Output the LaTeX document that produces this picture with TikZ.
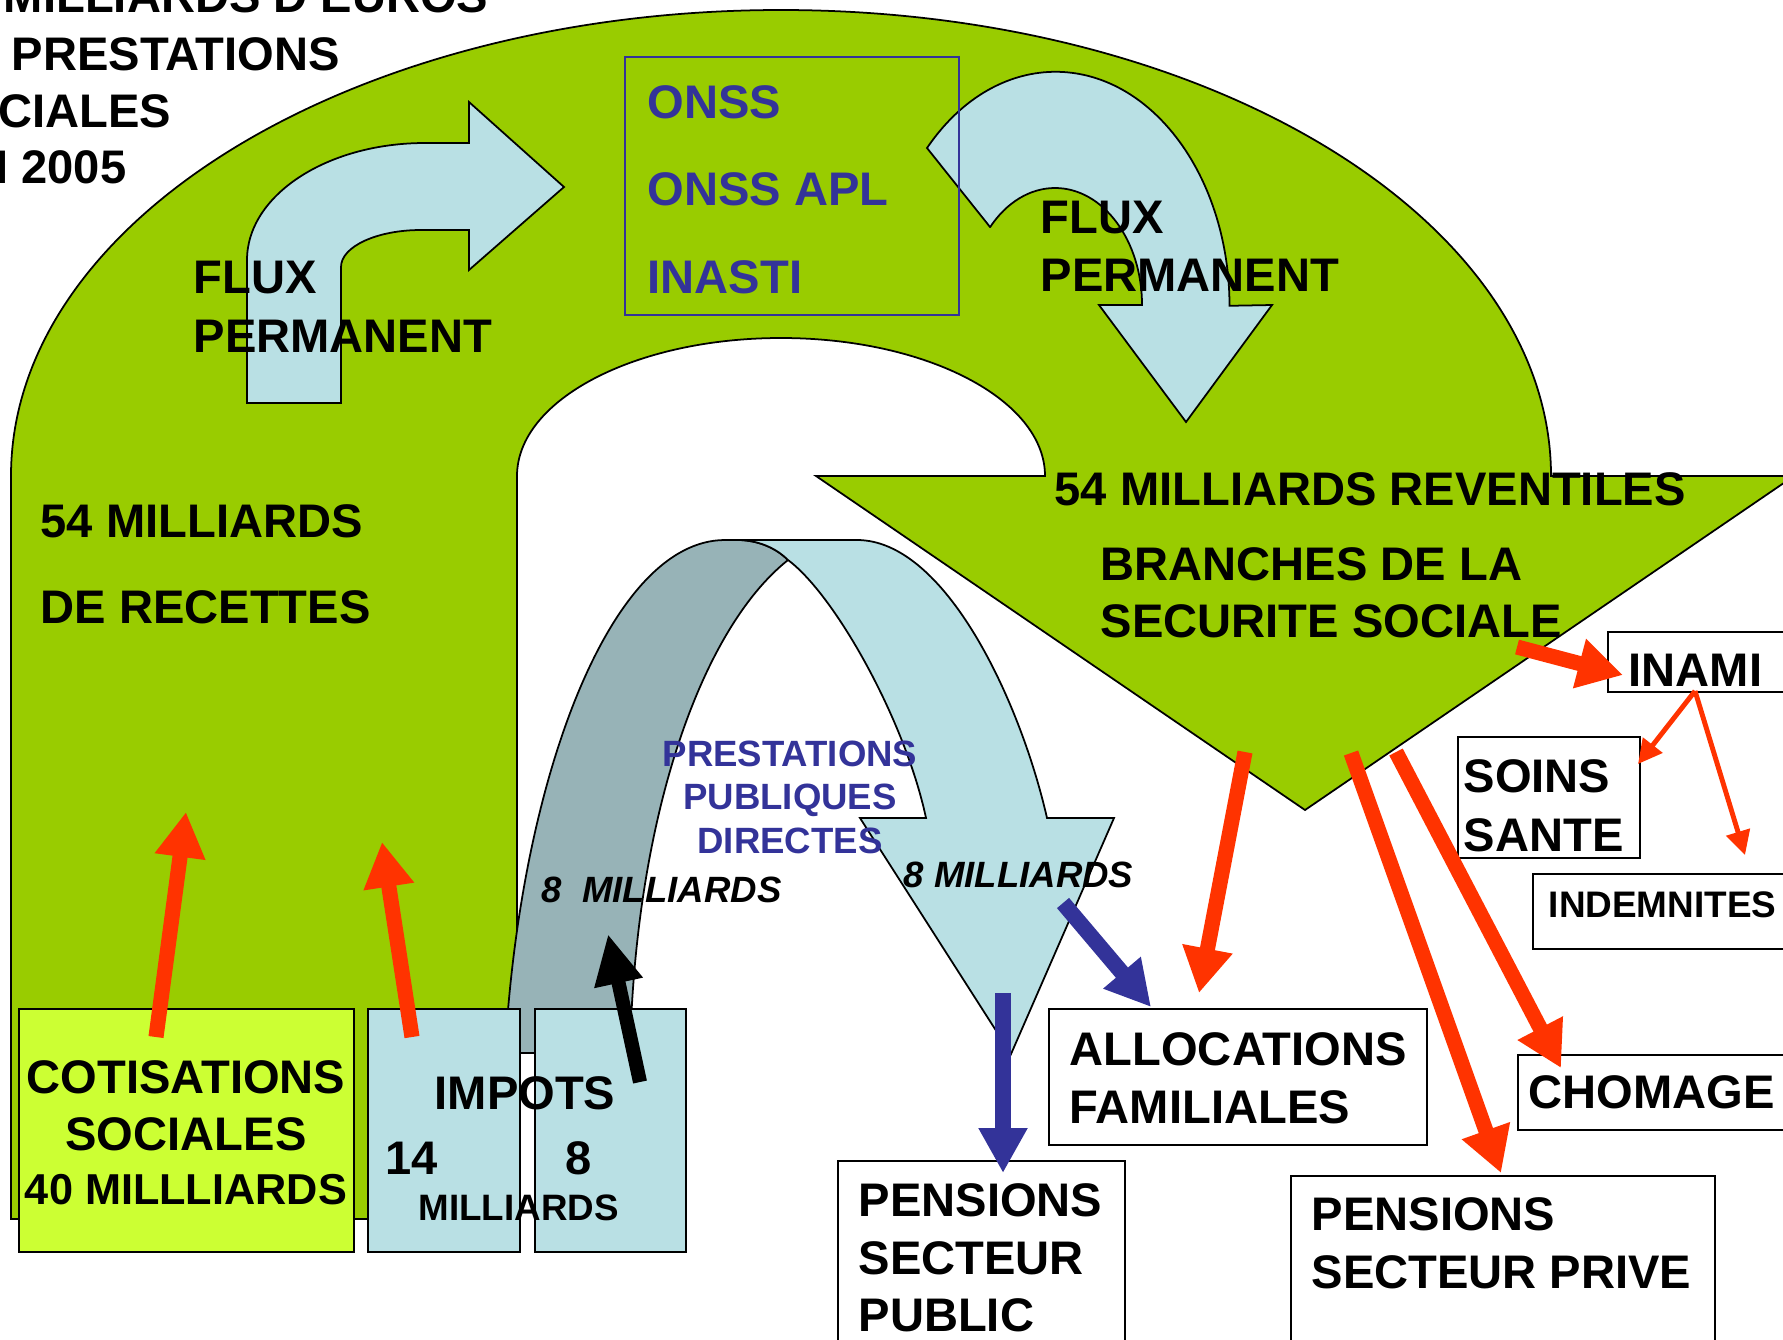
\documentclass[tikz,border=0pt]{standalone}
\usepackage{fontspec}
\setmainfont{Liberation Sans}
\usetikzlibrary{arrows.meta}
\definecolor{uturngreen}{RGB}{153,204,0}
\definecolor{fluxblue}{RGB}{185,224,228}
\definecolor{backgray}{RGB}{151,179,183}
\definecolor{limebox}{RGB}{204,255,51}
\definecolor{redarrow}{RGB}{255,51,0}
\definecolor{navy}{RGB}{51,51,153}
\newcommand{\bsz}[1]{\fontsize{#1}{#1}\selectfont\bfseries}

\begin{document}
\begin{tikzpicture}[x=0.01cm,y=-0.01cm,
  outl/.style={draw=black,line width=0.5pt},
  txt/.style={inner sep=0pt,anchor=base west,font=\bsz{13.4}},
  bluetxt/.style={txt,text=navy},
  ctxt/.style={txt,anchor=base},
  smalltxt/.style={txt,font=\bsz{10.45}},
  itxt/.style={txt,font=\bsz{10.4}\itshape},
  box/.style={draw,line width=0.6pt,inner sep=0pt,anchor=north west,fill=white},
  redarr/.style={draw=redarrow,line width=4.3pt,-{Triangle[length=0.45cm,width=0.48cm]}},
  redthin/.style={draw=redarrow,line width=1.4pt,-{Triangle[length=0.24cm,width=0.24cm]}},
  bluearr/.style={draw=navy,line width=4.5pt,-{Triangle[length=0.45cm,width=0.46cm]}},
  blackarr/.style={draw=black,line width=4pt,-{Triangle[length=0.5cm,width=0.46cm]}}]
\useasboundingbox (0,0) rectangle (1783,1339);
\clip (0,0) rectangle (1783,1339);

% big u-turn
\filldraw[outl,fill=uturngreen] (11,1219) -- (11,476)
  arc[start angle=180,end angle=360,x radius=770,y radius=466]
  -- (1794,476) -- (1305,810) -- (816,476) -- (1045,476)
  arc[start angle=0,end angle=-180,x radius=264,y radius=138]
  -- (517,1219) -- cycle;

% flux arrows
\filldraw[outl,fill=fluxblue] (247,403) -- (247,260)
  arc[start angle=180,end angle=270,x radius=178,y radius=117]
  -- (469,143) -- (469,102) -- (564,187) -- (469,270) -- (469,230) -- (421,230)
  arc[start angle=270,end angle=180,x radius=80,y radius=37]
  -- (341,403) -- cycle;
\filldraw[outl,fill=fluxblue] (990,227) -- (927,148)
  arc[start angle=222.4,end angle=360,x radius=174,y radius=234]
  -- (1272,305) -- (1186,422) -- (1099,305) -- (1142,305)
  arc[start angle=360,end angle=221.8,x radius=87,y radius=117] -- cycle;

\path (624,56) node (onssbox) [box,draw=navy,fill=none,minimum width=3.34cm,minimum height=2.58cm] {};

% prestations publiques ribbon
\filldraw[outl,fill=backgray] (505,1053) .. controls (520,780) and (610,540) .. (725,540)
  -- (740,540) .. controls (762,541) and (778,550) .. (788,560)
  .. controls (700,630) and (635,820) .. (630,1053) -- cycle;
\filldraw[outl,fill=fluxblue] (740,540) -- (857,540)
  .. controls (945,540) and (1020,700) .. (1047,818)
  -- (1114,818) -- (1011,1054) -- (860,818) -- (926,818)
  .. controls (905,720) and (835,595) .. (788,560)
  .. controls (778,550) and (762,541) .. (740,540) -- cycle;

% boxes
\path (18,1008) node (cotbox) [box,fill=limebox,minimum width=3.35cm,minimum height=2.43cm] {};
\path (367,1008) node (impboxa) [box,fill=fluxblue,minimum width=1.52cm,minimum height=2.43cm] {};
\path (534,1008) node (impboxb) [box,fill=fluxblue,minimum width=1.51cm,minimum height=2.43cm] {};
\path (1607,631) node (inamibox) [box,minimum width=1.93cm,minimum height=0.60cm] {};
\path (1457,736) node (soinsbox) [box,minimum width=1.82cm,minimum height=1.21cm] {};
\path (1532,873) node (indembox) [box,minimum width=2.68cm,minimum height=0.75cm] {};
\path (1517,1054) node (chombox) [box,minimum width=2.83cm,minimum height=0.75cm] {};
\path (1048,1008) node (allocbox) [box,minimum width=3.78cm,minimum height=1.36cm] {};
\path (837,1160) node (pubbox) [box,minimum width=2.87cm,minimum height=2.00cm] {};
\path (1290,1175) node (privbox) [box,minimum width=4.24cm,minimum height=1.85cm] {};

% arrow ends
\coordinate (cottail) at (156,1037);
\coordinate (cothead) at (186,812);
\coordinate (imptail) at (412,1037);
\coordinate (imphead) at (382,842);
\coordinate (blacktail) at (640,1082);
\coordinate (blackhead) at (608,934);
\coordinate (alloctail) at (1245,752);
\coordinate (allochead) at (1199,993);
\coordinate (privtail) at (1351,753);
\coordinate (privhead) at (1501,1173);
\coordinate (chomtail) at (1396,752);
\coordinate (chomhead) at (1561,1068);
\coordinate (inamitail) at (1517,647);
\coordinate (inamihead) at (1623,675);
\coordinate (inamifoot) at (1695,691);
\coordinate (soinshead) at (1638,764);
\coordinate (indemhead) at (1745,855);
\coordinate (bluetail) at (1063,903);
\coordinate (bluehead) at (1151,1007);
\coordinate (pubtail) at (1003,993);
\coordinate (pubhead) at (1003,1173);

\draw [redarr] (cottail) to (cothead);
\draw [redarr] (imptail) to (imphead);
\draw [blackarr] (blacktail) to (blackhead);
\draw [redarr] (alloctail) to (allochead);
\draw [redarr] (privtail) to (privhead);
\draw [redarr] (chomtail) to (chomhead);
\draw [redarr] (inamitail) to (inamihead);
\draw [redthin] (inamifoot) to (soinshead);
\draw [redthin] (inamifoot) to (indemhead);
\draw [bluearr] (bluetail) to (bluehead);
\draw [bluearr] (pubtail) to (pubhead);

% texts
\path (489,12) node (title1) [txt,anchor=base east] {MILLIARDS D'EUROS};
\path (11,70) node (title2) [txt] {PRESTATIONS};
\path (172,127) node (title3) [txt,anchor=base east] {CIALES};
\path (127,183) node (title4) [txt,anchor=base east] {I 2005};
\path (193,293) node (fluxl1) [txt] {FLUX};
\path (193,352) node (fluxl2) [txt] {PERMANENT};
\path (1040,233) node (fluxr1) [txt] {FLUX};
\path (1040,291) node (fluxr2) [txt] {PERMANENT};
\path (647,118) node (onss) [bluetxt] {ONSS};
\path (647,205) node (onssapl) [bluetxt] {ONSS APL};
\path (647,293) node (inasti) [bluetxt] {INASTI};
\path (40,537) node (recettes1) [txt] {54 MILLIARDS};
\path (40,623) node (recettes2) [txt] {DE RECETTES};
\path (1054,505) node (rev1) [txt] {54 MILLIARDS REVENTILES};
\path (1100,580) node (rev2) [txt] {BRANCHES DE LA};
\path (1100,637) node (rev3) [txt] {SECURITE SOCIALE};
\path (790,766) node (prest1) [ctxt,font=\bsz{10.4},text=navy] {PRESTATIONS};
\path (790,809) node (prest2) [ctxt,font=\bsz{10.4},text=navy] {PUBLIQUES};
\path (790,853) node (prest3) [ctxt,font=\bsz{10.4},text=navy] {DIRECTES};
\path (541,902) node (huitl) [itxt] {8\ \ MILLIARDS};
\path (903,887) node (huitr) [itxt] {8 MILLIARDS};
\path (186,1093) node (cot1) [ctxt] {COTISATIONS};
\path (186,1150) node (cot2) [ctxt] {SOCIALES};
\path (186,1204) node (cot3) [ctxt,font=\bsz{12.3}] {40 MILLLIARDS};
\path (434,1109) node (impots) [txt] {IMPOTS};
\path (385,1174) node (imp14) [txt] {14};
\path (565,1174) node (imp8) [txt] {8};
\path (418,1220) node (impmil) [smalltxt] {MILLIARDS};
\path (1628,686) node (inami) [txt] {INAMI};
\path (1463,792) node (soins1) [txt] {SOINS};
\path (1463,851) node (soins2) [txt] {SANTE};
\path (1548,917) node (indem) [txt,font=\bsz{10.5}] {INDEMNITES};
\path (1528,1108) node (chom) [txt] {CHOMAGE};
\path (1069,1065) node (alloc1) [txt] {ALLOCATIONS};
\path (1069,1123) node (alloc2) [txt] {FAMILIALES};
\path (858,1216) node (pub1) [txt] {PENSIONS};
\path (858,1274) node (pub2) [txt] {SECTEUR};
\path (858,1331) node (pub3) [txt] {PUBLIC};
\path (1311,1230) node (priv1) [txt] {PENSIONS};
\path (1311,1288) node (priv2) [txt] {SECTEUR PRIVE};
\end{tikzpicture}
\end{document}
